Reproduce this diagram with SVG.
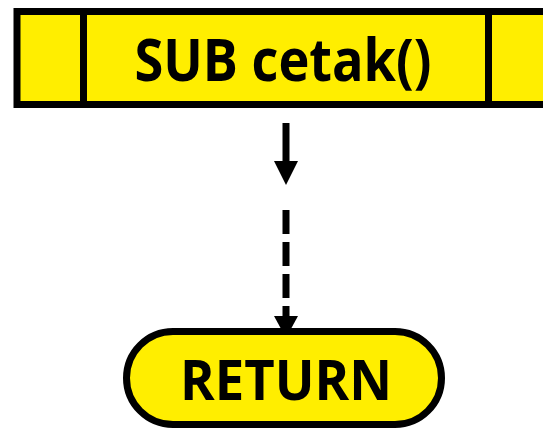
<svg xmlns="http://www.w3.org/2000/svg" width="543" height="429" viewBox="0 0 543 429">
  <style>
    .box { fill: #ffee00; stroke: #000; stroke-width: 7; }
    .lbl { font-family: "Open Sans", "Liberation Sans", sans-serif; font-weight: bold; fill: #000; text-anchor: middle; }
    .flow { stroke: #000; stroke-width: 7; fill: none; }
    .head { fill: #000; }
  </style>
  <rect width="543" height="429" fill="#fff"/>

  <!-- subroutine header block -->
  <g id="sub-cetak">
    <rect class="box" x="17" y="11.5" width="540" height="93"/>
    <line x1="83.5" y1="11.5" x2="83.5" y2="104.5" stroke="#000" stroke-width="7"/>
    <line x1="488.5" y1="11.5" x2="488.5" y2="104.5" stroke="#000" stroke-width="7"/>
    <text class="lbl" x="283" y="81" font-size="59" textLength="297" lengthAdjust="spacingAndGlyphs">SUB cetak()</text>
  </g>

  <!-- connectors -->
  <g id="connectors">
    <line class="flow" x1="286" y1="123" x2="286" y2="162"/>
    <path class="head" d="M274,161 L298,161 L286,185 Z"/>
    <line class="flow" x1="286" y1="210" x2="286" y2="318" stroke-dasharray="24 8"/>
    <path class="head" d="M274,316 L298,316 L286,338 Z"/>
  </g>

  <!-- return terminator -->
  <g id="return">
    <rect class="box" x="126.5" y="331.5" width="315" height="93" rx="46.5" ry="46.5"/>
    <text class="lbl" x="286" y="400" font-size="56" textLength="212" lengthAdjust="spacingAndGlyphs">RETURN</text>
  </g>
</svg>
